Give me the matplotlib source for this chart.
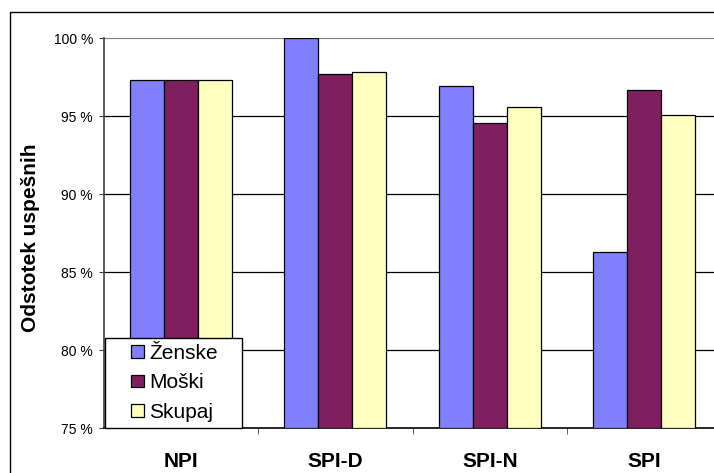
import numpy as np
import matplotlib
matplotlib.use("Agg")
import matplotlib.pyplot as plt
from matplotlib.patches import Rectangle
from matplotlib.legend_handler import HandlerPatch

# data
categories = ["NPI", "SPI-D", "SPI-N", "SPI"]
zenske = [97.3, 100.0, 96.95, 86.25]
moski = [97.3, 97.7, 94.55, 96.65]
skupaj = [97.3, 97.8, 95.6, 95.05]
series_names = ["Ženske", "Moški", "Skupaj"]
yticks = [75, 80, 85, 90, 95, 100]

colors = ["#8080FF", "#7F1F5F", "#FFFFC0"]

plt.rcParams["font.family"] = ["Liberation Sans", "DejaVu Sans"]


class SquareHandler(HandlerPatch):
    # small square sitting at the right end of the handle box (Excel look)
    def create_artists(self, legend, orig_handle, xdescent, ydescent,
                       width, height, fontsize, trans):
        s = 0.6 * fontsize
        p = Rectangle((-xdescent + width - s, -ydescent + (height - s) / 2), s, s)
        self.update_prop(p, orig_handle, legend)
        p.set_transform(trans)
        return [p]


W, H = 714, 473
fig = plt.figure(figsize=(W / 100, H / 100), dpi=100)

# outer chart frame (cut by the image on right and bottom)
fig.patches.append(Rectangle((10 / W, -0.1), 1.2, 1 - 12 / H + 0.1,
                             transform=fig.transFigure, fill=False,
                             edgecolor="black", linewidth=1.0, zorder=0))

left, right, top, bottom = 103.5, 721.5, 38, 428
ax = fig.add_axes([left / W, 1 - bottom / H, (right - left) / W, (bottom - top) / H])

x = np.arange(len(categories))
bw = 0.22
bars = []
for i, (vals, name, c) in enumerate(zip([zenske, moski, skupaj], series_names, colors)):
    b = ax.bar(x + (i - 1) * bw, np.array(vals) - 75, bottom=75, width=bw,
               color=c, edgecolor="black", linewidth=0.9, label=name, zorder=3)
    bars.append(b)

ax.set_xlim(-0.5, len(categories) - 0.5)
ax.set_ylim(75, 100)
ax.set_yticks(yticks)
ax.set_yticklabels([f"{t} %" for t in yticks], fontsize=10)
for t in yticks[1:]:
    ax.axhline(t, color="#808080" if t == 100 else "black",
               linewidth=1.6 if t == 100 else 0.9, zorder=1)

ax.set_xticks(x)
ax.set_xticklabels(categories, fontsize=15, fontweight="bold")
ax.tick_params(axis="x", length=0, pad=17)
ax.set_xticks(np.arange(0.5, len(categories) - 0.5, 1), minor=True)
ax.tick_params(axis="x", which="minor", length=4.5, direction="out", color="#404040")
ax.tick_params(axis="y", length=3.6, direction="out", color="#404040", pad=4)

for s in ["top", "right"]:
    ax.spines[s].set_visible(False)
ax.spines["left"].set_color("#404040")
ax.spines["bottom"].set_color("black")
ax.spines["left"].set_linewidth(1.2)
ax.spines["bottom"].set_linewidth(1.2)

fig.text(31 / W, 1 - 237.5 / H, "Odstotek uspešnih", rotation=90, fontsize=15,
         fontweight="bold", ha="center", va="center")

leg_w = (240 - 103.5) / (right - left)
leg = ax.legend(handles=[b.patches[0] for b in bars], labels=series_names,
                handler_map={Rectangle: SquareHandler()},
                loc="lower left", bbox_to_anchor=(0.003, 0, leg_w, 0.3),
                mode="expand", borderaxespad=0,
                fontsize=15, fancybox=False, framealpha=1, edgecolor="black",
                handlelength=1.55, handleheight=0.7, handletextpad=0.25,
                labelspacing=0.5, borderpad=0.3)
leg.get_frame().set_linewidth(1.0)
leg.set_zorder(5)

fig.savefig("out.png", dpi=100)
